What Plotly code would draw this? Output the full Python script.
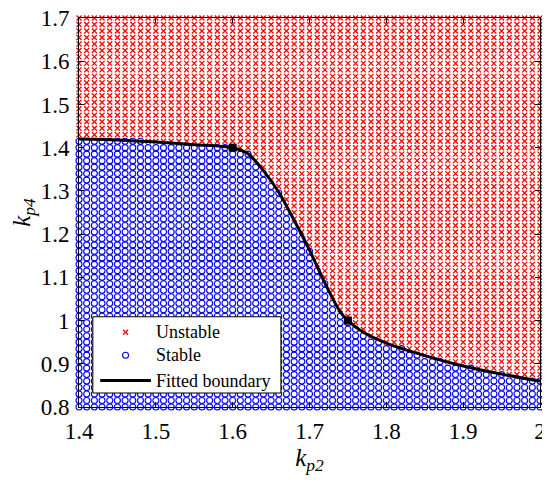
import numpy as np
import plotly.graph_objects as go

# sweep grid (61 x 61 points)
kp2_grid = np.linspace(1.4, 2.0, 61)
kp4_grid = np.linspace(0.8, 1.7, 61)

# number of stable grid rows (from the bottom) in each kp2 column
stable_rows = [42, 42, 42, 42, 42, 42, 42, 42, 42,
               41, 41, 41, 41, 41, 41, 41, 41, 41, 41, 41, 41,
               40, 40, 38, 37, 35, 34, 31, 29, 27, 25, 22, 20, 17, 15, 14,
               13, 12, 11, 11, 10, 10, 10, 9, 9, 8, 8, 8, 7, 7, 7, 7,
               6, 6, 6, 6, 5, 5, 5, 5, 5]

# fitted boundary
kp2_fit = [1.40, 1.45, 1.50, 1.55, 1.60, 1.62, 1.64, 1.66, 1.68, 1.70,
           1.72, 1.74, 1.75, 1.77, 1.80, 1.85, 1.90, 1.95, 2.00]
kp4_fit = [1.420, 1.418, 1.413, 1.407, 1.400, 1.386, 1.347, 1.297, 1.232, 1.163,
           1.087, 1.020, 1.000, 0.973, 0.948, 0.919, 0.895, 0.876, 0.860]

# marked points on the boundary
kp2_mark = [1.60, 1.75]
kp4_mark = [1.40, 1.00]

x_ticks = [1.4, 1.5, 1.6, 1.7, 1.8, 1.9, 2.0]
x_labels = ['1.4', '1.5', '1.6', '1.7', '1.8', '1.9', '2']
y_ticks = [0.8, 0.9, 1.0, 1.1, 1.2, 1.3, 1.4, 1.5, 1.6, 1.7]
y_labels = ['0.8', '0.9', '1', '1.1', '1.2', '1.3', '1.4', '1.5', '1.6', '1.7']

legend_names = ['Unstable', 'Stable', 'Fitted boundary']

#%%
xs, ys, xu, yu = [], [], [], []
for i, x in enumerate(kp2_grid):
    for k, y in enumerate(kp4_grid):
        if k < stable_rows[i]:
            xs.append(x); ys.append(y)
        else:
            xu.append(x); yu.append(y)

font = 'Liberation Serif'
x_style = dict(symbol='x-thin', size=5, color='red', line=dict(color='red', width=1.3))
o_style = dict(symbol='circle-open', size=6, color='blue', line=dict(color='blue', width=1.1))

fig = go.Figure()
fig.add_scatter(x=xu, y=yu, mode='markers', cliponaxis=False, marker=x_style)
fig.add_scatter(x=xs, y=ys, mode='markers', cliponaxis=False, marker=o_style)
fig.add_scatter(x=kp2_fit, y=kp4_fit, mode='lines',
                line=dict(color='black', width=3, shape='spline', smoothing=0.8))
fig.add_scatter(x=kp2_mark, y=kp4_mark, mode='markers',
                marker=dict(symbol='square', size=8, color='black'))

# legend box drawn on an overlay axis (0..1) so it sits above the grid points
bx0, bx1, by0, by1 = 0.030, 0.438, 0.036, 0.232
row_y = [0.192, 0.133, 0.068]
fig.add_scatter(x=[bx0, bx1, bx1, bx0, bx0], y=[by0, by0, by1, by1, by0],
                xaxis='x2', yaxis='y2', mode='lines', fill='toself',
                fillcolor='white', line=dict(color='black', width=1))
fig.add_scatter(x=[0.101], y=[row_y[0]], xaxis='x2', yaxis='y2', mode='markers',
                marker=x_style)
fig.add_scatter(x=[0.101], y=[row_y[1]], xaxis='x2', yaxis='y2', mode='markers',
                marker=o_style)
fig.add_scatter(x=[0.046, 0.156], y=[row_y[2], row_y[2]], xaxis='x2', yaxis='y2',
                mode='lines', line=dict(color='black', width=3))
for name, yy in zip(legend_names, row_y):
    fig.add_annotation(x=0.163, y=yy, xref='x2', yref='y2', text=name,
                       showarrow=False, xanchor='left', yanchor='middle',
                       font=dict(family=font, size=18, color='black'))

axis_style = dict(showgrid=False, zeroline=False, showline=True, linecolor='black',
                  linewidth=1, mirror='ticks', ticks='inside', ticklen=5,
                  tickcolor='black', automargin=False, ticklabeloverflow='allow',
                  tickfont=dict(family=font, size=23, color='black'))

fig.update_xaxes(range=[1.4, 2.0], tickvals=x_ticks, ticktext=x_labels,
                 ticklabelstandoff=3,
                 title=dict(text='<i>k</i><sub><i>p2</i></sub>',
                            font=dict(family=font, size=25, color='black'), standoff=1),
                 **axis_style)
fig.update_yaxes(range=[0.8, 1.7], tickvals=y_ticks, ticktext=y_labels,
                 ticklabelstandoff=4,
                 title=dict(text='<i>k</i><sub><i>p4</i></sub>',
                            font=dict(family=font, size=25, color='black'), standoff=6),
                 **axis_style)

# page body adds an 8px offset, so the figure is a bit smaller than the window
fig.update_layout(width=542, height=476,
                  margin=dict(l=71, r=10, t=10, b=77),
                  plot_bgcolor='white', paper_bgcolor='white',
                  showlegend=False,
                  xaxis2=dict(overlaying='x', range=[0, 1], visible=False, fixedrange=True),
                  yaxis2=dict(overlaying='y', range=[0, 1], visible=False, fixedrange=True))

fig.write_html('out.html')
